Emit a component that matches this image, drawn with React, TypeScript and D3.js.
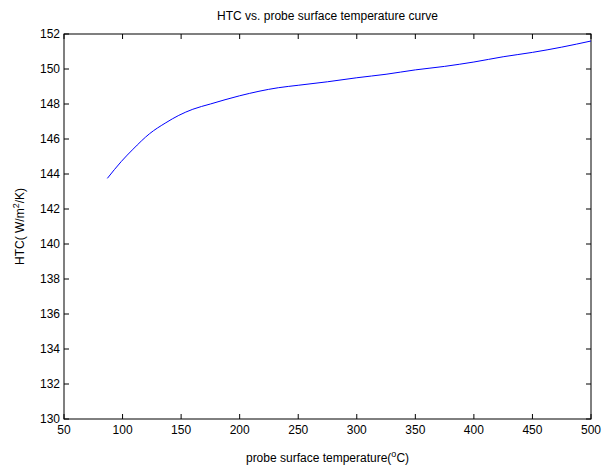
import React from "react";
import * as d3 from "d3";

const temps = [87, 99, 109, 123, 137, 148, 160, 175, 200, 233, 250, 275, 300, 325, 350, 375, 400, 425, 450, 475, 500];
const htc = [143.75, 144.72, 145.42, 146.3, 146.93, 147.35, 147.7, 148.0, 148.47, 148.93, 149.07, 149.27, 149.5, 149.7, 149.95, 150.15, 150.4, 150.7, 150.95, 151.25, 151.6];
const xTicks = [50, 100, 150, 200, 250, 300, 350, 400, 450, 500];
const yTicks = [130, 132, 134, 136, 138, 140, 142, 144, 146, 148, 150, 152];

const W = 602, H = 470;
const L = 64, R = 591, T = 34, B = 419;

export default function App() {
  const x = d3.scaleLinear().domain([50, 500]).range([L, R]);
  const y = d3.scaleLinear().domain([130, 152]).range([B, T]);
  const pts = temps.map((t, i) => [t, htc[i]] as [number, number]);
  const line = d3.line<[number, number]>().x(d => x(d[0])).y(d => y(d[1])).curve(d3.curveMonotoneX);
  const font = "'Liberation Sans', Arial, sans-serif";
  const tl = 5;
  return (
    <svg width={W} height={H} style={{ position: "absolute", left: 0, top: 0, background: "#fff" }} fontFamily={font}>
      <rect x={0} y={0} width={W} height={H} fill="#fff" />
      <text x={(L + R) / 2} y={20} textAnchor="middle" fontSize={12} fill="#000">HTC vs. probe surface temperature curve</text>
      <rect x={L} y={T} width={R - L} height={B - T} fill="#fff" stroke="#000" strokeWidth={1} />
      {xTicks.map(t => (
        <g key={"x" + t}>
          <line x1={x(t)} x2={x(t)} y1={B} y2={B - tl} stroke="#000" />
          <line x1={x(t)} x2={x(t)} y1={T} y2={T + tl} stroke="#000" />
          <text x={x(t)} y={B + 15} textAnchor="middle" fontSize={12} fill="#000">{t}</text>
        </g>
      ))}
      {yTicks.map(t => (
        <g key={"y" + t}>
          <line x1={L} x2={L + tl} y1={y(t)} y2={y(t)} stroke="#000" />
          <line x1={R} x2={R - tl} y1={y(t)} y2={y(t)} stroke="#000" />
          <text x={L - 4} y={y(t) + 4} textAnchor="end" fontSize={12} fill="#000">{t}</text>
        </g>
      ))}
      <path d={line(pts) || ""} fill="none" stroke="#0000ff" strokeWidth={1} />
      <text x={(L + R) / 2} y={462} textAnchor="middle" fontSize={12} fill="#000">
        probe surface temperature(<tspan dy={-5} fontSize={9}>o</tspan><tspan dy={5}>C)</tspan>
      </text>
      <text transform={`translate(24, ${(T + B) / 2}) rotate(-90)`} textAnchor="middle" fontSize={12} fill="#000">
        HTC( W/m<tspan dy={-5} fontSize={9}>2</tspan><tspan dy={5}>/K)</tspan>
      </text>
    </svg>
  );
}
